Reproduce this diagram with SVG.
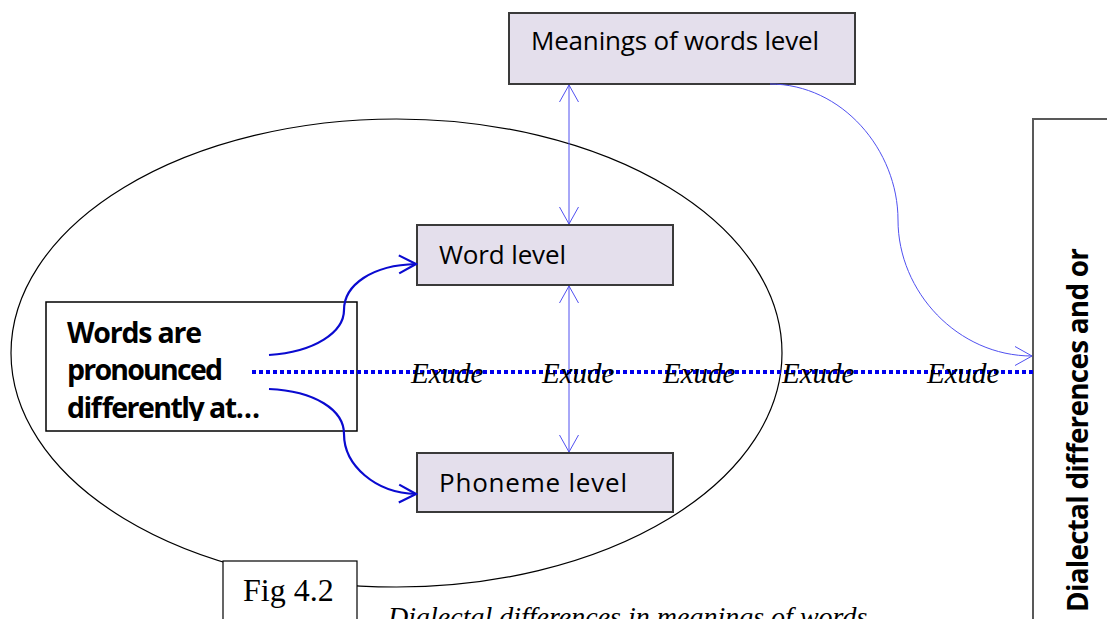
<svg xmlns="http://www.w3.org/2000/svg" width="1107" height="619" viewBox="0 0 1107 619">
  <style>
    .level { fill: #e4dfec; stroke: #3a3a3a; stroke-width: 2; }
    .plain { fill: #ffffff; stroke: #000000; stroke-width: 1.5; }
    .sans { font-family: "Open Sans", "Liberation Sans", sans-serif; fill: #000; }
    .serif { font-family: "Liberation Serif", "DejaVu Serif", serif; fill: #000; }
    .thin { fill: none; stroke: #5050f0; stroke-width: 1; }
    .thick { fill: none; stroke: #0a0ad0; stroke-width: 2.2; }
  </style>
  <defs>
    <marker id="openThin" viewBox="0 0 18 20" refX="17" refY="10" markerWidth="18" markerHeight="20" markerUnits="userSpaceOnUse" orient="auto-start-reverse">
      <path d="M0,0.5 L17,10 L0,19.5" fill="none" stroke="#5050f0" stroke-width="1"/>
    </marker>
    <marker id="openThick" viewBox="0 0 20 22" refX="18" refY="11" markerWidth="20" markerHeight="22" markerUnits="userSpaceOnUse" orient="auto">
      <path d="M1,2 L18,11 L1,20" fill="none" stroke="#0a0ad0" stroke-width="2.2"/>
    </marker>
    <clipPath id="wordsClip">
      <rect x="46" y="302" width="311" height="119"/>
    </clipPath>
  </defs>

  <!-- enclosing ellipse -->
  <ellipse cx="396.5" cy="353" rx="385.5" ry="234" fill="none" stroke="#000" stroke-width="1.2"/>

  <g id="meanings">
    <rect class="level" x="509" y="13" width="346" height="71"/>
    <text class="sans" x="531" y="50" font-size="26" textLength="288">Meanings of words level</text>
  </g>

  <g id="word-level">
    <rect class="level" x="417" y="225" width="256" height="60"/>
    <text class="sans" x="439" y="264" font-size="26" textLength="127">Word level</text>
  </g>

  <g id="phoneme-level">
    <rect class="level" x="417" y="453" width="256" height="59"/>
    <text class="sans" x="439" y="492" font-size="26" textLength="188">Phoneme level</text>
  </g>

  <g id="words-pronounced">
    <rect class="plain" x="46" y="302" width="311" height="129"/>
    <g clip-path="url(#wordsClip)" class="sans" font-size="28.5" font-weight="bold">
      <text x="67" y="343" textLength="135">Words are</text>
      <text x="67" y="380" textLength="156">pronounced</text>
      <text x="67" y="418" textLength="193">differently at…</text>
    </g>
  </g>

  <g id="dialectal-box">
    <rect x="1033" y="119" width="90" height="520" fill="#fff" stroke="#595959" stroke-width="2"/>
    <text class="sans" transform="translate(1088,612) rotate(-90)" font-size="28" font-weight="bold" textLength="364">Dialectal differences and or</text>
  </g>

  <g id="connectors">
    <line class="thin" x1="569" y1="85" x2="569" y2="224" marker-start="url(#openThin)" marker-end="url(#openThin)"/>
    <line class="thin" x1="569" y1="286" x2="569" y2="452" marker-start="url(#openThin)" marker-end="url(#openThin)"/>
    <path class="thin" d="M770,84 C842,84 898,150 898,220 C898,292 958,356 1032,356" marker-end="url(#openThin)"/>
    <path class="thick" d="M269,355 C315,352 344,332 344,310 C344,285 372,265 416,264" marker-end="url(#openThick)"/>
    <path class="thick" d="M269,389 C315,391 344,410 344,434 C344,465 375,493 416,494" marker-end="url(#openThick)"/>
    <line x1="252" y1="372" x2="1033" y2="372" stroke="#0000ee" stroke-width="4" stroke-dasharray="4 3"/>
  </g>

  <g id="exude-labels" class="serif" font-size="29" font-style="italic">
    <text x="411" y="383">Exude</text>
    <text x="542" y="383">Exude</text>
    <text x="663" y="383">Exude</text>
    <text x="782" y="383">Exude</text>
    <text x="927" y="383">Exude</text>
  </g>

  <g id="fig-label">
    <rect x="223" y="561" width="134" height="80" fill="#fff" stroke="#000" stroke-width="1.2"/>
    <text class="serif" x="243" y="601" font-size="32">Fig 4.2</text>
  </g>

  <text class="serif" x="388" y="626" font-size="28" font-style="italic">Dialectal differences in meanings of words</text>
</svg>
